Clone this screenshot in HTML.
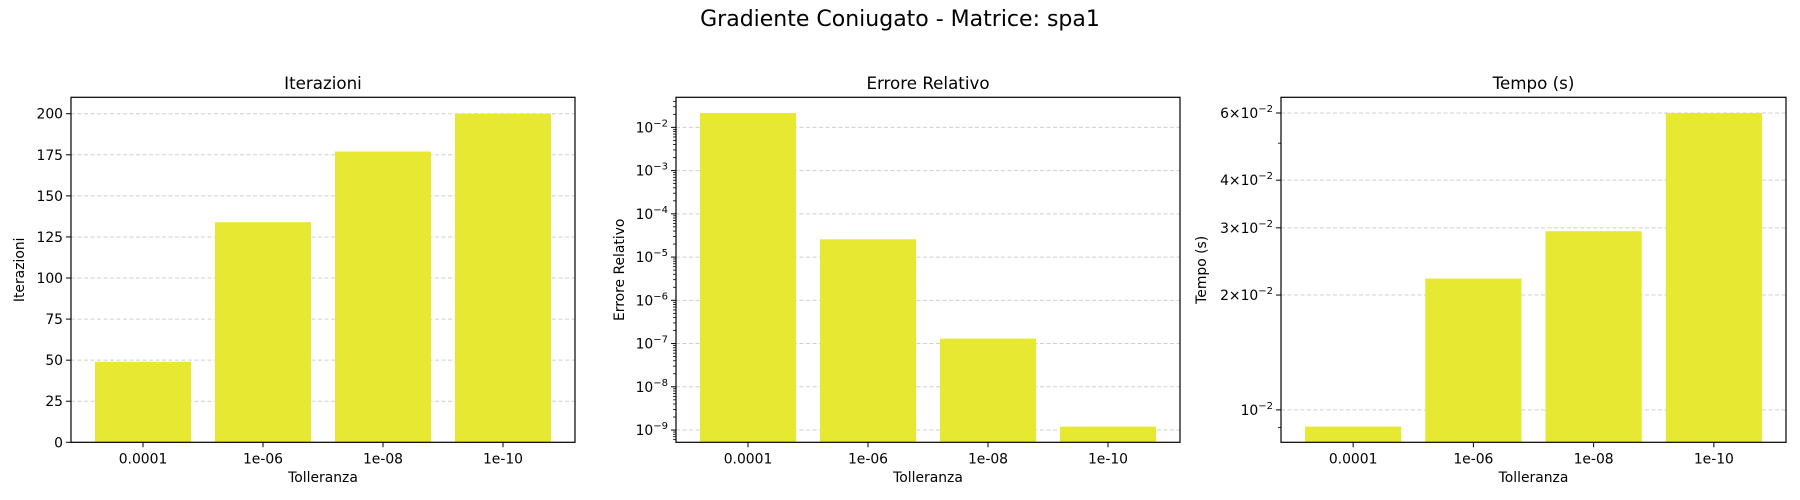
<!DOCTYPE html>
<html><head><meta charset="utf-8"><style>
html,body{margin:0;padding:0;background:#fff}
svg{display:block;font-family:"DejaVu Sans","Liberation Sans",sans-serif}
</style></head><body>
<svg id="fig" width="1800" height="500" viewBox="0 0 1800 500" xmlns="http://www.w3.org/2000/svg">
<text x="900" y="26" text-anchor="middle" font-size="22">Gradiente Coniugato - Matrice: spa1</text>
</svg>
<script>
const categories = ["0.0001","1e-06","1e-08","1e-10"];
const iterValues = [49, 134, 177, 200];
const errValues = [0.0215, 2.58e-5, 1.3e-7, 1.2e-9];
const timeValues = [0.00904, 0.0221, 0.0294, 0.060];
const iterTicks = [0,25,50,75,100,125,150,175,200];
const errTicksExp = [-9,-8,-7,-6,-5,-4,-3,-2];
const timeTicks = [[0.01,"","10"],[0.02,"2\u00d7","10"],[0.03,"3\u00d7","10"],[0.04,"4\u00d7","10"],[0.06,"6\u00d7","10"]];

const NS="http://www.w3.org/2000/svg";
const svg=document.getElementById('fig');
function mk(tag,attrs,parent){const e=document.createElementNS(NS,tag);for(const k in attrs)e.setAttribute(k,attrs[k]);(parent||svg).appendChild(e);return e;}
const TOP=97.3,BOT=442.3,BAR="#e7e832";

function panel(key,left,right,title,ylabel,ylabelX,vals,yScaleFn,ymin,ymax){
  const g=mk('g',{});
  
  
  const n=categories.length;
  const xs=i=>left+(i+0.6)/(n+0.2)*(right-left);
  const bw=0.8/(n+0.2)*(right-left);
  const ys=v=>BOT-(yScaleFn(v)-yScaleFn(ymin))/(yScaleFn(ymax)-yScaleFn(ymin))*(BOT-TOP);
  return {g,xs,bw,ys,n};
}

function drawPanel(key,left,right,title,ylabel,ylabelX,vals,tf,ymin,ymax,majors,minors){
  const p=panel(key,left,right,title,ylabel,ylabelX,vals,tf,ymin,ymax);
  const g=p.g;
  // grid
  majors.forEach(m=>{const y=p.ys(m.v);
    const l=mk('line',{x1:left,x2:right,y1:y,y2:y,stroke:"#cfcfcf","stroke-width":1,"stroke-dasharray":"4,2.5"},g);
    
    
  });
  // bars
  vals.forEach((v,i)=>{const y=p.ys(v);
    const r=mk('rect',{x:p.xs(i)-p.bw/2,y:y,width:p.bw,height:BOT-y,fill:BAR},g);
    
    
  });
  // frame
  const f=mk('rect',{x:left,y:TOP,width:right-left,height:BOT-TOP,fill:"none",stroke:"#000","stroke-width":1.2},g);
  
  
  // y ticks
  majors.forEach(m=>{const y=p.ys(m.v);
    mk('line',{x1:left-5,x2:left,y1:y,y2:y,stroke:"#000","stroke-width":1},g);
    const t=mk('text',{x:left-8,y:y+5,"text-anchor":"end","font-size":13.9},g);
    
    
    if(m.exp!==undefined){
      t.appendChild(document.createTextNode(m.pre+m.base));
      const s=mk('tspan',{"font-size":10,dy:-6},t); s.textContent="\u2212"+m.exp;
    } else t.textContent=m.label;
  });
  (minors||[]).forEach(v=>{const y=p.ys(v);
    if(y>TOP&&y<BOT) mk('line',{x1:left-3,x2:left,y1:y,y2:y,stroke:"#000","stroke-width":0.8},g);
  });
  // x ticks
  categories.forEach((c,i)=>{const x=p.xs(i);
    mk('line',{x1:x,x2:x,y1:BOT,y2:BOT+5,stroke:"#000","stroke-width":1},g);
    const t=mk('text',{x:x,y:BOT+21,"text-anchor":"middle","font-size":13.9},g);
    
    
    t.textContent=c;
  });
  const cx=(left+right)/2;
  const xl=mk('text',{x:cx,y:482,"text-anchor":"middle","font-size":13.9},g);
  
  
  xl.textContent="Tolleranza";
  const yl=mk('text',{x:ylabelX,y:(TOP+BOT)/2,"text-anchor":"middle","font-size":13.9,transform:`rotate(-90 ${ylabelX} ${(TOP+BOT)/2})`},g);
  
  
  yl.textContent=ylabel;
  const tt=mk('text',{x:cx,y:89,"text-anchor":"middle","font-size":16.7},g);
  
  
  tt.textContent=title;
}
const lin=v=>v, lg=v=>Math.log10(v);
function logLim(vals){const a=Math.min(...vals.map(lg)),b=Math.max(...vals.map(lg)),m=(b-a)*0.05;return [Math.pow(10,a-m),Math.pow(10,b+m)];}

// panel 1
const im=Math.max(...iterValues)*1.05;
drawPanel('iterazioni',71,575,"Iterazioni","Iterazioni",24,iterValues,lin,0,im,iterTicks.map(v=>({v,label:String(v)})),[]);
// panel 2
const el=logLim(errValues);
const errMinors=[];for(let e=-10;e<=-1;e++)for(let k=2;k<=9;k++)errMinors.push(k*Math.pow(10,e));
drawPanel('errore',676,1180,"Errore Relativo","Errore Relativo",624,errValues,lg,el[0],el[1],errTicksExp.map(e=>({v:Math.pow(10,e),pre:"",base:"10",exp:-e})),errMinors);
// panel 3
const tl=logLim(timeValues);
drawPanel('tempo',1281,1786,"Tempo (s)","Tempo (s)",1206,timeValues,lg,tl[0],tl[1],timeTicks.map(t=>({v:t[0],pre:t[1],base:t[2],exp:2})),[0.009,0.05]);
</script>
</body></html>
